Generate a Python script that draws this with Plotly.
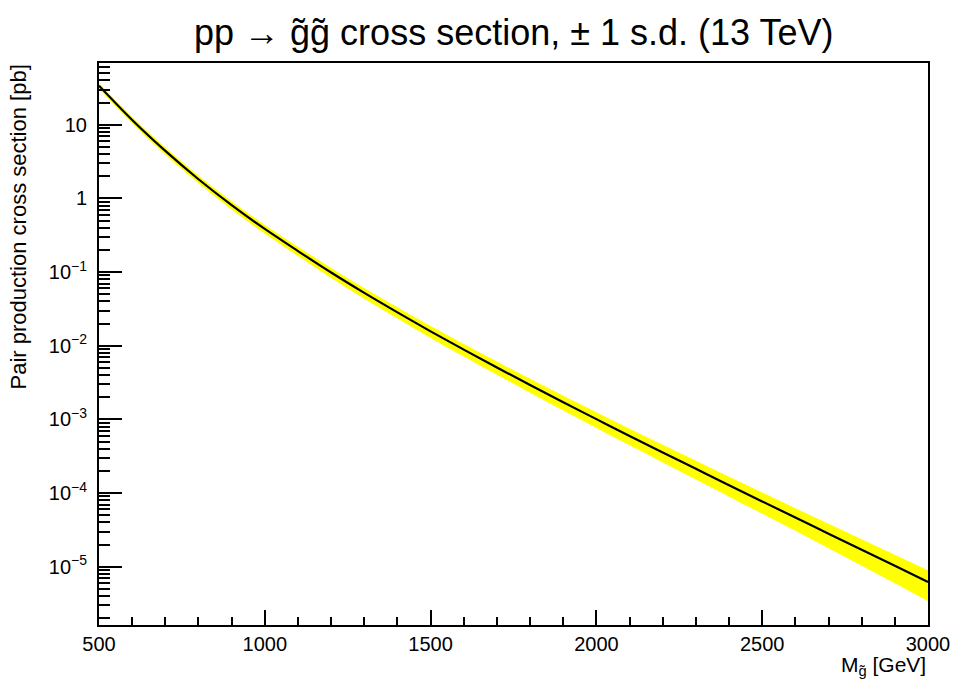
import plotly.graph_objects as go

# Gluino pair-production cross section at 13 TeV
mass_gev = [500, 600, 700, 800, 900, 1000, 1100, 1200, 1300, 1400, 1500,
            1600, 1700, 1800, 1900, 2000, 2100, 2200, 2300, 2400, 2500,
            2600, 2700, 2800, 2900, 3000]
xsec_pb = [33.8, 11.6, 4.41, 1.82, 0.811, 0.385, 0.193, 0.0986, 0.0522,
           0.0284, 0.0157, 0.00887, 0.00507, 0.00293, 0.00171, 0.00101,
           0.000598, 0.000357, 0.000214, 0.000128, 7.72e-5, 4.66e-5,
           2.81e-5, 1.70e-5, 1.03e-5, 6.20e-6]
# relative 1 s.d. uncertainty (fraction)
rel_unc = [0.09, 0.10, 0.11, 0.12, 0.13, 0.135, 0.145, 0.155, 0.165, 0.175,
           0.185, 0.195, 0.205, 0.215, 0.228, 0.24, 0.255, 0.27, 0.285, 0.30,
           0.32, 0.34, 0.365, 0.39, 0.42, 0.45]

y_major = [1e-5, 1e-4, 1e-3, 1e-2, 1e-1, 1, 10]
y_major_text = ["10<sup>\u22125</sup>", "10<sup>\u22124</sup>",
                "10<sup>\u22123</sup>", "10<sup>\u22122</sup>",
                "10<sup>\u22121</sup>", "1", "10"]
x_major = [500, 1000, 1500, 2000, 2500, 3000]

upper = [s * (1 + r) for s, r in zip(xsec_pb, rel_unc)]
lower = [s * (1 - r) for s, r in zip(xsec_pb, rel_unc)]

y_minor = [m * 10.0 ** e for e in range(-6, 2) for m in range(2, 10)]

FONT = "Liberation Sans, Arial, Helvetica, sans-serif"

fig = go.Figure()
fig.add_trace(go.Scatter(x=mass_gev, y=lower, mode="lines",
                         line=dict(width=0, color="#ffff00", shape="spline"),
                         showlegend=False, hoverinfo="skip"))
fig.add_trace(go.Scatter(x=mass_gev, y=upper, mode="lines",
                         line=dict(width=0, color="#ffff00", shape="spline"),
                         fill="tonexty", fillcolor="#ffff00",
                         showlegend=False, hoverinfo="skip"))
fig.add_trace(go.Scatter(x=mass_gev, y=xsec_pb, mode="lines",
                         line=dict(width=2.2, color="black", shape="spline"),
                         showlegend=False))

fig.update_layout(
    width=954, height=681,
    margin=dict(l=99, r=26, t=63, b=56, autoexpand=False),
    paper_bgcolor="white", plot_bgcolor="white",
    font=dict(family=FONT, color="black", size=20),
    title=dict(text="pp \u2192 g\u0303g\u0303 cross section, \u00b1 1 s.d. (13 TeV)",
               x=0.5385, xanchor="center", y=0.952, yanchor="middle",
               font=dict(size=36, family=FONT)),
    xaxis=dict(range=[500, 3000], tickvals=x_major, automargin=False,
               ticks="inside", ticklen=15, tickwidth=1.5, tickcolor="black",
               showline=True, linecolor="black", linewidth=2, mirror=True,
               showgrid=False, zeroline=False,
               tickfont=dict(size=20),
               minor=dict(ticks="inside", ticklen=8, tickwidth=1.5,
                          tickcolor="black", dtick=100, tick0=500)),
    yaxis=dict(type="log", range=[-5.79, 1.838], automargin=False,
               tickvals=y_major, ticktext=y_major_text,
               ticks="inside", ticklen=23, tickwidth=1.5, tickcolor="black",
               showline=True, linecolor="black", linewidth=2, mirror=True,
               showgrid=False, zeroline=False,
               tickfont=dict(size=20), ticklabelstandoff=6,
               minor=dict(ticks="inside", ticklen=11, tickwidth=1.5,
                          tickcolor="black", tickvals=y_minor)),
)

fig.add_annotation(text="Pair production cross section [pb]",
                   xref="paper", yref="paper", x=-0.0977, y=1.0,
                   xanchor="center", yanchor="top", textangle=-90,
                   showarrow=False, font=dict(size=22, family=FONT))
fig.add_annotation(text="M<sub>g\u0303</sub> [GeV]",
                   xref="paper", yref="paper", x=1.0, y=-0.046,
                   xanchor="right", yanchor="top",
                   showarrow=False, font=dict(size=21, family=FONT))

fig.write_html("out.html")
